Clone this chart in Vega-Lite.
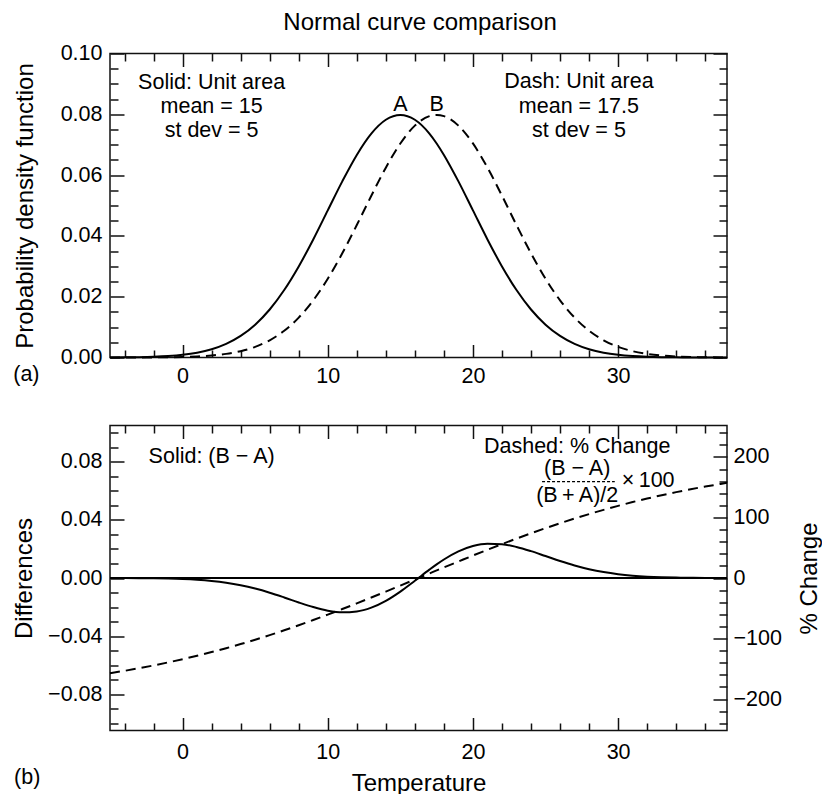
{
  "$schema": "https://vega.github.io/schema/vega-lite/v6.json",
  "padding": {"left": 11, "top": 10.5, "right": 0, "bottom": 0},
  "config": {
    "font": "Liberation Sans",
    "view": {"stroke": "#111", "strokeWidth": 1.5},
    "axis": {"labelFont": "Liberation Sans", "labelFontSize": 21.5, "labelColor": "black", "titleFont": "Liberation Sans", "titleFontSize": 24, "titleFontWeight": "normal", "titleColor": "black", "domain": false, "grid": false, "tickColor": "#111", "tickWidth": 1.5},
    "text": {"font": "Liberation Sans", "fontSize": 21.5, "color": "black"}
  },
  "title": {"text": "Normal curve comparison", "anchor": "middle", "dx": 3, "fontSize": 24, "fontWeight": "normal", "font": "Liberation Sans", "color": "black", "offset": 7},
  "datasets": {
    "curves": [
      {"x": -5, "A": 0.0000268, "B": 0.0000032, "diff": -0.0000236, "pct": -157.3},
      {"x": -4, "A": 0.0000584, "B": 0.0000077, "diff": -0.0000507, "pct": -153.4},
      {"x": -3, "A": 0.0001224, "B": 0.0000178, "diff": -0.0001046, "pct": -149.1},
      {"x": -2, "A": 0.0002465, "B": 0.0000397, "diff": -0.0002068, "pct": -144.5},
      {"x": -1, "A": 0.000477, "B": 0.000085, "diff": -0.000392, "pct": -139.5},
      {"x": 0, "A": 0.000886, "B": 0.0001745, "diff": -0.0007115, "pct": -134.2},
      {"x": 1, "A": 0.001583, "B": 0.0003445, "diff": -0.0012385, "pct": -128.5},
      {"x": 2, "A": 0.002717, "B": 0.000653, "diff": -0.002064, "pct": -122.4},
      {"x": 3, "A": 0.004479, "B": 0.001191, "diff": -0.003288, "pct": -116.0},
      {"x": 4, "A": 0.007095, "B": 0.002084, "diff": -0.005011, "pct": -109.2},
      {"x": 5, "A": 0.010798, "B": 0.003506, "diff": -0.007292, "pct": -102.0},
      {"x": 6, "A": 0.01579, "B": 0.005665, "diff": -0.010125, "pct": -94.4},
      {"x": 7, "A": 0.022184, "B": 0.008797, "diff": -0.013387, "pct": -86.4},
      {"x": 8, "A": 0.029945, "B": 0.013123, "diff": -0.016822, "pct": -78.1},
      {"x": 9, "A": 0.038837, "B": 0.01881, "diff": -0.020027, "pct": -69.5},
      {"x": 10, "A": 0.048394, "B": 0.025904, "diff": -0.02249, "pct": -60.5},
      {"x": 11, "A": 0.057938, "B": 0.034273, "diff": -0.023665, "pct": -51.3},
      {"x": 12, "A": 0.066645, "B": 0.04357, "diff": -0.023075, "pct": -41.9},
      {"x": 13, "A": 0.073654, "B": 0.053217, "diff": -0.020437, "pct": -32.2},
      {"x": 14, "A": 0.078208, "B": 0.062451, "diff": -0.015757, "pct": -22.4},
      {"x": 15, "A": 0.079788, "B": 0.070413, "diff": -0.009375, "pct": -12.5},
      {"x": 16, "A": 0.078208, "B": 0.076277, "diff": -0.001931, "pct": -2.5},
      {"x": 17, "A": 0.073654, "B": 0.07939, "diff": 0.005736, "pct": 7.5},
      {"x": 17.5, "A": 0.070413, "B": 0.079788, "diff": 0.009375, "pct": 12.5},
      {"x": 18, "A": 0.066645, "B": 0.07939, "diff": 0.012745, "pct": 17.5},
      {"x": 19, "A": 0.057938, "B": 0.076277, "diff": 0.018339, "pct": 27.3},
      {"x": 20, "A": 0.048394, "B": 0.070413, "diff": 0.022019, "pct": 37.1},
      {"x": 21, "A": 0.038837, "B": 0.062451, "diff": 0.023614, "pct": 46.6},
      {"x": 22, "A": 0.029945, "B": 0.053217, "diff": 0.023272, "pct": 56.0},
      {"x": 23, "A": 0.022184, "B": 0.04357, "diff": 0.021386, "pct": 65.1},
      {"x": 24, "A": 0.01579, "B": 0.034273, "diff": 0.018483, "pct": 73.8},
      {"x": 25, "A": 0.010798, "B": 0.025904, "diff": 0.015106, "pct": 82.3},
      {"x": 26, "A": 0.007095, "B": 0.01881, "diff": 0.011715, "pct": 90.4},
      {"x": 27, "A": 0.004479, "B": 0.013123, "diff": 0.008644, "pct": 98.2},
      {"x": 28, "A": 0.002717, "B": 0.008797, "diff": 0.00608, "pct": 105.6},
      {"x": 29, "A": 0.001583, "B": 0.005665, "diff": 0.004082, "pct": 112.6},
      {"x": 30, "A": 0.000886, "B": 0.003506, "diff": 0.00262, "pct": 119.2},
      {"x": 31, "A": 0.000477, "B": 0.002084, "diff": 0.001607, "pct": 125.5},
      {"x": 32, "A": 0.0002465, "B": 0.001191, "diff": 0.0009445, "pct": 131.3},
      {"x": 33, "A": 0.0001224, "B": 0.000653, "diff": 0.0005306, "pct": 136.8},
      {"x": 34, "A": 0.0000584, "B": 0.0003445, "diff": 0.0002861, "pct": 141.9},
      {"x": 35, "A": 0.0000268, "B": 0.0001745, "diff": 0.0001477, "pct": 146.7},
      {"x": 36, "A": 0.0000118, "B": 0.000085, "diff": 0.0000732, "pct": 151.1},
      {"x": 37, "A": 0.000005, "B": 0.0000397, "diff": 0.0000347, "pct": 155.2},
      {"x": 37.5, "A": 0.0000032, "B": 0.0000268, "diff": 0.0000236, "pct": 157.3}
    ],
    "topText": [
      {"x": 2, "y": 0.0883, "t": "Solid: Unit area"},
      {"x": 2, "y": 0.0803, "t": "mean = 15"},
      {"x": 2, "y": 0.0724, "t": "st dev = 5"},
      {"x": 27.3, "y": 0.0886, "t": "Dash: Unit area"},
      {"x": 27.3, "y": 0.0803, "t": "mean = 17.5"},
      {"x": 27.3, "y": 0.0724, "t": "st dev = 5"},
      {"x": 15, "y": 0.0811, "t": "A"},
      {"x": 17.5, "y": 0.0811, "t": "B"},
      {"x": -10.76, "y": -0.0077, "t": "(a)"}
    ],
    "bottomText": [
      {"x": 2, "y": 0.0795, "t": "Solid: (B \u2212 A)"},
      {"x": 27.18, "y": 0.0862, "t": "Dashed: % Change"},
      {"x": 27.18, "y": 0.0711, "t": "(B \u2212 A)"},
      {"x": 27.18, "y": 0.0522, "t": "(B\u2009+\u2009A)/2"},
      {"x": 32.07, "y": 0.0625, "t": "\u00d7\u2009100"},
      {"x": -10.7, "y": -0.1415, "t": "(b)"}
    ],
    "fracLine": [{"x": 24.76, "x2": 29.77, "y": 0.0664}]
  },
  "spacing": 68,
  "bounds": "flush",
  "vconcat": [
    {
      "width": 617,
      "height": 304,
      "data": {"name": "curves"},
      "layer": [
        {
          "mark": {"type": "line", "color": "black", "strokeWidth": 2, "interpolate": "monotone"},
          "encoding": {
            "x": {"field": "x", "type": "quantitative", "scale": {"domain": [-5, 37.5], "nice": false, "zero": false},
              "axis": {"orient": "bottom", "title": null, "values": [-4,-2,0,2,4,6,8,10,12,14,16,18,20,22,24,26,28,30,32,34,36],
                "labelExpr": "datum.value % 10 === 0 ? datum.label : ''",
                "tickSize": {"condition": {"test": "datum.value % 10 === 0", "value": -13}, "value": -7.5},
                "labelPadding": 21}},
            "y": {"field": "A", "type": "quantitative", "scale": {"domain": [0, 0.1], "nice": false, "zero": false},
              "axis": {"orient": "left", "title": "Probability density function", "format": ".2f",
                "values": [0,0.005,0.01,0.015,0.02,0.025,0.03,0.035,0.04,0.045,0.05,0.055,0.06,0.065,0.07,0.075,0.08,0.085,0.09,0.095,0.1],
                "labelExpr": "round(datum.value*1000) % 20 === 0 ? datum.label : ''",
                "tickSize": {"condition": {"test": "round(datum.value*1000) % 20 === 0", "value": -14}, "value": -8},
                "labelPadding": 22, "titlePadding": 23}}
          }
        },
        {
          "mark": {"type": "line", "color": "black", "strokeWidth": 2, "strokeDash": [10, 6], "interpolate": "monotone"},
          "encoding": {
            "x": {"field": "x", "type": "quantitative", "scale": {"domain": [-5, 37.5], "nice": false, "zero": false},
              "axis": {"orient": "top", "title": null, "labels": false, "values": [-4,-2,0,2,4,6,8,10,12,14,16,18,20,22,24,26,28,30,32,34,36],
                "tickSize": {"condition": {"test": "datum.value % 10 === 0", "value": -13}, "value": -7.5}}},
            "y": {"field": "B", "type": "quantitative", "scale": {"domain": [0, 0.1], "nice": false, "zero": false},
              "axis": {"orient": "right", "title": null, "labels": false,
                "values": [0,0.005,0.01,0.015,0.02,0.025,0.03,0.035,0.04,0.045,0.05,0.055,0.06,0.065,0.07,0.075,0.08,0.085,0.09,0.095,0.1],
                "tickSize": {"condition": {"test": "round(datum.value*1000) % 20 === 0", "value": -14}, "value": -8}}}
          }
        },
        {
          "data": {"name": "topText"},
          "mark": {"type": "text", "align": "center", "baseline": "alphabetic", "fontSize": 21.5},
          "encoding": {
            "x": {"field": "x", "type": "quantitative", "scale": {"domain": [-5, 37.5], "nice": false, "zero": false}, "axis": null},
            "y": {"field": "y", "type": "quantitative", "scale": {"domain": [0, 0.1], "nice": false, "zero": false}, "axis": null},
            "text": {"field": "t"}
          }
        }
      ],
      "resolve": {"axis": {"x": "independent", "y": "independent"}}
    },
    {
      "width": 617,
      "height": 305,
      "data": {"name": "curves"},
      "layer": [
        {
          "mark": {"type": "rule", "color": "black", "strokeWidth": 1.2},
          "encoding": {
            "y": {"datum": 0, "type": "quantitative", "scale": {"domain": [-0.105, 0.105], "nice": false, "zero": false}, "axis": null}
          }
        },
        {
          "mark": {"type": "line", "color": "black", "strokeWidth": 2, "interpolate": "monotone"},
          "encoding": {
            "x": {"field": "x", "type": "quantitative", "scale": {"domain": [-5, 37.5], "nice": false, "zero": false},
              "axis": {"orient": "bottom", "title": "Temperature", "values": [-4,-2,0,2,4,6,8,10,12,14,16,18,20,22,24,26,28,30,32,34,36],
                "labelExpr": "datum.value % 10 === 0 ? datum.label : ''",
                "tickSize": {"condition": {"test": "datum.value % 10 === 0", "value": -13}, "value": -7.5},
                "labelPadding": 24, "titlePadding": 8}},
            "y": {"field": "diff", "type": "quantitative", "scale": {"domain": [-0.105, 0.105], "nice": false, "zero": false},
              "axis": {"orient": "left", "title": "Differences", "format": ".2f",
                "values": [-0.1,-0.09,-0.08,-0.07,-0.06,-0.05,-0.04,-0.03,-0.02,-0.01,0,0.01,0.02,0.03,0.04,0.05,0.06,0.07,0.08,0.09,0.1],
                "labelExpr": "round(datum.value*100) % 4 === 0 ? datum.label : ''",
                "tickSize": {"condition": {"test": "round(datum.value*100) % 4 === 0", "value": -14}, "value": -8},
                "labelPadding": 22, "titlePadding": 11}}
          }
        },
        {
          "mark": {"type": "line", "color": "black", "strokeWidth": 2, "strokeDash": [10, 6], "interpolate": "monotone"},
          "encoding": {
            "x": {"field": "x", "type": "quantitative", "scale": {"domain": [-5, 37.5], "nice": false, "zero": false},
              "axis": {"orient": "top", "title": null, "labels": false, "values": [-4,-2,0,2,4,6,8,10,12,14,16,18,20,22,24,26,28,30,32,34,36],
                "tickSize": {"condition": {"test": "datum.value % 10 === 0", "value": -13}, "value": -7.5}}},
            "y": {"field": "pct", "type": "quantitative", "scale": {"domain": [-252, 252], "nice": false, "zero": false},
              "axis": {"orient": "right", "title": "% Change", "titleAngle": 270,
                "values": [-240,-220,-200,-180,-160,-140,-120,-100,-80,-60,-40,-20,0,20,40,60,80,100,120,140,160,180,200,220,240],
                "labelExpr": "datum.value % 100 === 0 ? datum.label : ''",
                "tickSize": {"condition": {"test": "datum.value % 100 === 0", "value": -14}, "value": -8},
                "labelPadding": 20, "titlePadding": 40}}
          }
        },
        {
          "data": {"name": "bottomText"},
          "mark": {"type": "text", "align": "center", "baseline": "alphabetic", "fontSize": 21.5},
          "encoding": {
            "x": {"field": "x", "type": "quantitative", "scale": {"domain": [-5, 37.5], "nice": false, "zero": false}, "axis": null},
            "y": {"field": "y", "type": "quantitative", "scale": {"domain": [-0.105, 0.105], "nice": false, "zero": false}, "axis": null},
            "text": {"field": "t"}
          }
        },
        {
          "data": {"name": "fracLine"},
          "mark": {"type": "rule", "color": "black", "strokeWidth": 1.2, "strokeDash": [3, 2]},
          "encoding": {
            "x": {"field": "x", "type": "quantitative", "scale": {"domain": [-5, 37.5], "nice": false, "zero": false}, "axis": null},
            "x2": {"field": "x2"},
            "y": {"field": "y", "type": "quantitative", "scale": {"domain": [-0.105, 0.105], "nice": false, "zero": false}, "axis": null}
          }
        }
      ],
      "resolve": {"scale": {"y": "independent"}, "axis": {"x": "independent", "y": "independent"}}
    }
  ]
}
